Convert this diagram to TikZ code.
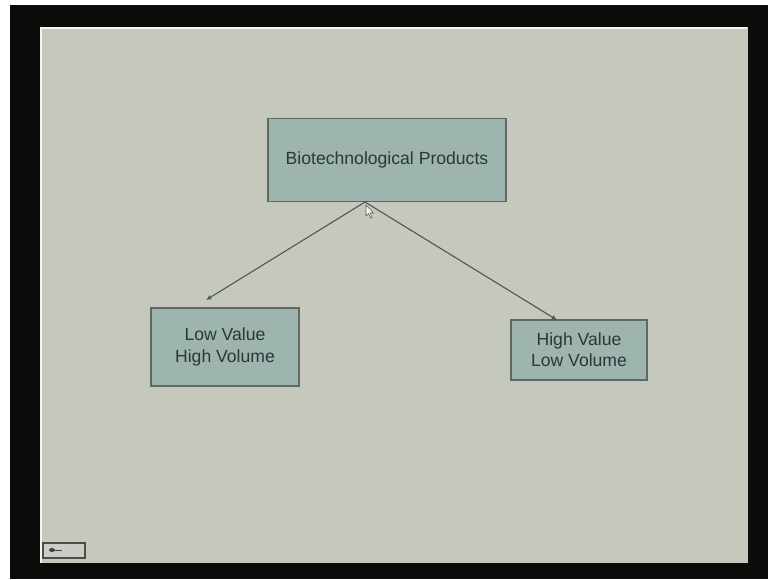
\documentclass[tikz,border=0pt]{standalone}
\usepackage{fontspec}
\setmainfont{Liberation Sans}
\usetikzlibrary{arrows.meta}
\definecolor{frame}{HTML}{0B0C0A}
\definecolor{slide}{HTML}{C4C8BD}
\definecolor{boxfill}{HTML}{9EB4AF}
\definecolor{boxline}{HTML}{5E6864}
\definecolor{ink}{HTML}{2A3836}
\definecolor{wire}{HTML}{4E5450}
\tikzset{
  x=0.75pt, y=-0.75pt,
  prodbox/.style={draw=boxline, line width=1.2pt, fill=boxfill, text=ink,
    font=\fontsize{13.2}{16}\selectfont, align=center, inner sep=0pt},
  link/.style={draw=wire, line width=0.8pt, -{Latex[length=4pt,width=3.5pt]}},
}
\begin{document}
\begin{tikzpicture}
\useasboundingbox (0,0) rectangle (768,579);
% screen surround and slide
\fill[white] (0,0) rectangle (768,579);
\fill[frame] (10,5) rectangle (768,579);
\fill[slide] (40,27) rectangle (748,563);
\draw[white!80!slide, line width=1pt] (41,563) -- (41,28) -- (747,28);

% boxes
\node[prodbox, minimum width=238*0.75pt, minimum height=83*0.75pt] (bio) at (387,160) {Biotechnological Products};
\node[prodbox, minimum width=148*0.75pt, minimum height=78*0.75pt] (lvhv) at (225,347) {Low Value\\High Volume};
\node[prodbox, minimum width=136*0.75pt, minimum height=60*0.75pt] (hvlv) at (579,350) {High Value\\Low Volume};

% connectors
\coordinate (split) at (365,202);
\coordinate (lefttip) at (206,300);
\coordinate (righttip) at (557,320);
\draw[link] (split) -- (lefttip);
\draw[link] (split) -- (righttip);

% mouse pointer
\fill[white!85!slide, draw=gray!70!black, line width=0.4pt]
  (366,205) -- (366,216) -- (368.5,213.5) -- (370.5,218) -- (372,217.3) -- (370,213) -- (373.5,213) -- cycle;

% navigation button
\node[draw=gray!60!black, fill=slide!90!white, line width=0.8pt,
  minimum width=42*0.75pt, minimum height=15*0.75pt, inner sep=0pt] (nav) at (64,550.5) {};
\fill[gray!50!black] (52,550) ellipse (3 and 2);
\draw[gray!50!black, line width=0.6pt] (55,550) -- (62,550);
\end{tikzpicture}
\end{document}
